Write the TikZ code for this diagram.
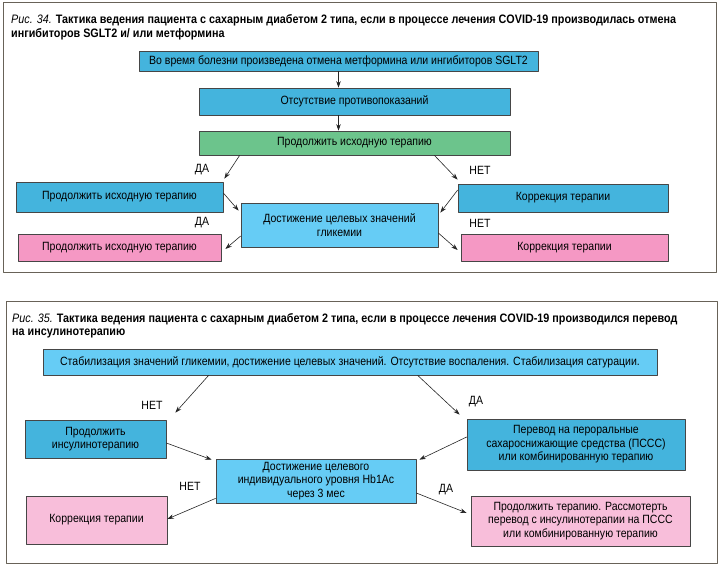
\documentclass[tikz,border=0pt]{standalone}
\usepackage{fontspec}
\setmainfont{Liberation Sans}[FakeStretch=0.88]
\usetikzlibrary{arrows.meta}
\definecolor{framegray}{RGB}{104,98,88}
\definecolor{boxline}{RGB}{70,70,70}
\definecolor{boxblue}{RGB}{68,180,221}
\definecolor{boxlight}{RGB}{102,204,245}
\definecolor{boxgreen}{RGB}{108,196,140}
\definecolor{boxpink}{RGB}{245,152,196}
\definecolor{boxrose}{RGB}{248,190,218}
\tikzset{
  frame/.style={draw=framegray,line width=1bp},
  box/.style={draw=boxline,line width=0.7bp,rectangle,inner sep=0pt,align=center,
    font=\fontsize{12}{13.5}\selectfont},
  bluebox/.style={box,fill=boxblue},
  lightbox/.style={box,fill=boxlight},
  greenbox/.style={box,fill=boxgreen},
  pinkbox/.style={box,fill=boxpink},
  rosebox/.style={box,fill=boxrose},
  lbl/.style={inner sep=0pt,font=\fontsize{12}{13.5}\selectfont},
  ttl/.style={anchor=west,inner sep=0pt,font=\fontsize{12.3}{14}\selectfont\bfseries},
  arr/.style={->,draw=black!85,line width=0.6bp},
}
\begin{document}
\begin{tikzpicture}[x=1bp,y=-1bp,>={Stealth[length=6.5bp,width=4.5bp]},line join=bevel]
\useasboundingbox (0,0) rectangle (720,569);
%% frames
\draw [frame] (3,3) rectangle (716,272);
\draw [frame] (6,301) rectangle (717,563);
%% fig. 34
\node (t34a) at (11,20) [ttl] {\textit{\mdseries Рис. 34.} Тактика ведения пациента с сахарным диабетом 2 типа, если в процессе лечения COVID-19 производилась отмена};
\node (t34b) at (11,34) [ttl] {ингибиторов SGLT2 и/ или метформина};
\node (stop) at (338.5,61) [bluebox,minimum width=399bp,minimum height=20bp] {Во время болезни произведена отмена метформина или ингибиторов SGLT2};
\node (noci) at (354.5,101.5) [bluebox,minimum width=311bp,minimum height=27bp] {Отсутствие противопоказаний};
\node (cont) at (354.5,143) [greenbox,minimum width=311bp,minimum height=24bp] {Продолжить исходную терапию};
\node (cont_l) at (119.5,197) [bluebox,minimum width=207bp,minimum height=30bp] {Продолжить исходную терапию};
\node (corr_r) at (563,198) [bluebox,minimum width=210bp,minimum height=28bp] {Коррекция терапии};
\node (goal) at (339.5,225) [lightbox,minimum width=197bp,minimum height=44bp] {Достижение целевых значений\\гликемии};
\node (cont_l2) at (119.5,247.5) [pinkbox,minimum width=203bp,minimum height=27bp] {Продолжить исходную терапию};
\node (corr_r2) at (564.5,247.5) [pinkbox,minimum width=207bp,minimum height=27bp] {Коррекция терапии};
\node (yes1) at (202,170) [lbl] {ДА};
\node (no1) at (480,170) [lbl] {НЕТ};
\node (yes2) at (202,223) [lbl] {ДА};
\node (no2) at (480,223) [lbl] {НЕТ};
\draw [arr] (stop.south) -- (stop.south |- noci.north);
\draw [arr] (stop.south |- noci.south) -- (stop.south |- cont.north);
\draw [arr] ([xshift=41bp]cont.south west) -- ([xshift=1bp,yshift=3bp]cont_l.north east);
\draw [arr] ([xshift=-76bp]cont.south east) -- ([yshift=4bp]corr_r.north west);
\draw [arr] ([yshift=4bp]cont_l.east) -- ([xshift=-2bp,yshift=-8bp]goal.north west);
\draw [arr] ([yshift=8bp]corr_r.west) -- ([xshift=2bp,yshift=-10bp]goal.north east);
\draw [arr] ([yshift=-11bp]goal.west) -- ([xshift=4bp,yshift=-1.5bp]cont_l2.east);
\draw [arr] ([yshift=-8bp]goal.east) -- ([xshift=-3bp,yshift=-2.5bp]corr_r2.west);
%% fig. 35
\node (t35a) at (12,319) [ttl] {\textit{\mdseries Рис. 35.} Тактика ведения пациента с сахарным диабетом 2 типа, если в процессе лечения COVID-19 производился перевод};
\node (t35b) at (12,333) [ttl] {на инсулинотерапию};
\node (stab) at (350,362) [lightbox,minimum width=614bp,minimum height=26bp] {Стабилизация значений гликемии, достижение целевых значений. Отсутствие воспаления. Стабилизация сатурации.};
\node (insl) at (95.5,439) [bluebox,minimum width=141bp,minimum height=38bp] {Продолжить\\инсулинотерапию};
\node (oral) at (576,444.5) [bluebox,minimum width=218bp,minimum height=51bp] {Перевод на пероральные\\сахароснижающие средства (ПССС)\\или комбинированную терапию};
\node (hba) at (316,481) [lightbox,minimum width=200bp,minimum height=44bp] {Достижение целевого\\индивидуального уровня Hb1Ac\\через 3 мес};
\node (corr_b) at (96.5,520) [rosebox,minimum width=141bp,minimum height=48bp] {Коррекция терапии};
\node (keep_b) at (580.5,521) [rosebox,minimum width=219bp,minimum height=50bp] {Продолжить терапию. Рассмотерть\\перевод с инсулинотерапии на ПССС\\или комбинированную терапию};
\node (no3) at (152,405) [lbl] {НЕТ};
\node (yes3) at (476,402) [lbl] {ДА};
\node (no4) at (190,486) [lbl] {НЕТ};
\node (yes4) at (446,490) [lbl] {ДА};
\draw [arr] ([xshift=166bp]stab.south west) -- ([xshift=9bp,yshift=7bp]insl.north east);
\draw [arr] ([xshift=375bp]stab.south west) -- ([xshift=-7bp,yshift=4bp]oral.north west);
\draw [arr] ([yshift=-4bp]insl.east) -- ([xshift=-4bp,yshift=-1bp]hba.north west);
\draw [arr] ([yshift=7.5bp]oral.west) -- ([xshift=3bp,yshift=-1bp]hba.north east);
\draw [arr] ([yshift=5bp]hba.south west) -- ([yshift=1bp]corr_b.east);
\draw [arr] ([yshift=-12bp]hba.east) -- ([xshift=-4bp,yshift=8bp]keep_b.west);
%
\end{tikzpicture}
\end{document}
